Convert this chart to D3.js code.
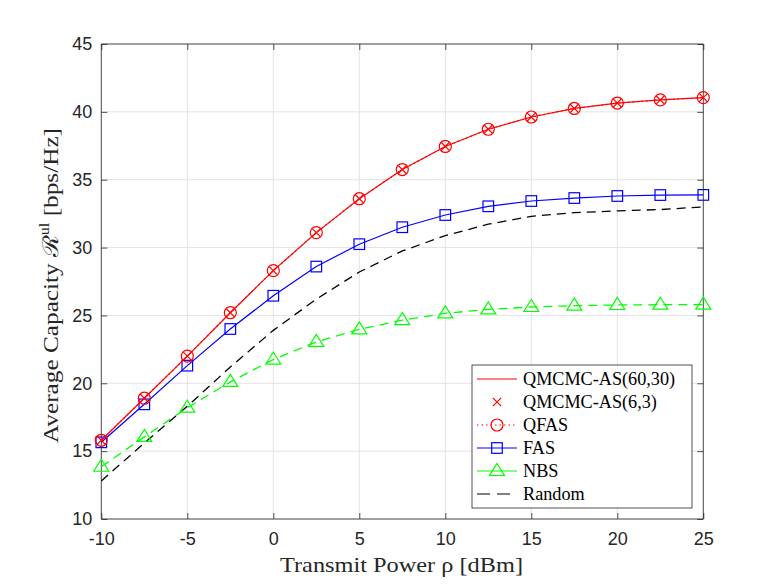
<!DOCTYPE html>
<html>
<head>
<meta charset="utf-8">
<script src="https://cdn.jsdelivr.net/npm/d3@7"></script>
<style>
  html, body { margin: 0; padding: 0; background: #fff; }
  svg { display: block; }
</style>
</head>
<body>
<svg id="chart" width="778" height="584"></svg>
<script>
// transmit power (dBm)
const power = [-10, -7.5, -5, -2.5, 0, 2.5, 5, 7.5, 10, 12.5, 15, 17.5, 20, 22.5, 25];

// average capacity per scheme (bps/Hz)
const qmcmc60 = [15.8, 18.9, 22.0, 25.2, 28.3, 31.1, 33.6, 35.75, 37.45, 38.72, 39.62, 40.25, 40.65, 40.88, 41.05];
const qmcmc6 = [15.8, 18.9, 22.0, 25.2, 28.3, 31.1, 33.6, 35.75, 37.45, 38.72, 39.62, 40.25, 40.65, 40.88, 41.05];
const qfas = [15.8, 18.9, 22.0, 25.2, 28.3, 31.1, 33.6, 35.75, 37.45, 38.72, 39.62, 40.25, 40.65, 40.88, 41.05];
const fas = [15.65, 18.45, 21.3, 24.0, 26.45, 28.6, 30.25, 31.5, 32.4, 33.04, 33.43, 33.65, 33.8, 33.87, 33.88];
const nbs = [13.85, 16.05, 18.2, 20.1, 21.75, 23.05, 23.97, 24.65, 25.15, 25.45, 25.62, 25.72, 25.77, 25.79, 25.8];
const randomSel = [12.8, 15.6, 18.3, 21.2, 23.9, 26.2, 28.2, 29.75, 30.88, 31.72, 32.3, 32.57, 32.7, 32.8, 33.0];

const xTicks = [-10, -5, 0, 5, 10, 15, 20, 25];
const yTicks = [10, 15, 20, 25, 30, 35, 40, 45];

const legendNames = ["QMCMC-AS(60,30)", "QMCMC-AS(6,3)", "QFAS", "FAS", "NBS", "Random"];

const svg = d3.select("#chart");
const plotL = 101.3, plotR = 703.3, plotT = 44, plotB = 519;

const x = d3.scaleLinear().domain([-10, 25]).range([plotL, plotR]);
const y = d3.scaleLinear().domain([10, 45]).range([plotB, plotT]);

const axisColor = "#262626";
const sansFont = "'Liberation Sans', Arial, sans-serif";
const serifFont = "'Liberation Serif', 'DejaVu Serif', serif";

// grid
const grid = svg.append("g");
grid.selectAll("line.gx").data(xTicks).enter().append("line")
  .attr("x1", d => x(d)).attr("x2", d => x(d))
  .attr("y1", plotT).attr("y2", plotB)
  .attr("stroke", "#e3e3e3").attr("stroke-width", 1);
grid.selectAll("line.gy").data(yTicks).enter().append("line")
  .attr("y1", d => y(d)).attr("y2", d => y(d))
  .attr("x1", plotL).attr("x2", plotR)
  .attr("stroke", "#e3e3e3").attr("stroke-width", 1);

// axes (ticks inward, box)
const tickLen = 6;
const fmt = d => String(d); // plain hyphen minus like MATLAB
const xAxisB = d3.axisBottom(x).tickValues(xTicks).tickSize(-tickLen).tickPadding(13).tickFormat(fmt);
const xAxisT = d3.axisTop(x).tickValues(xTicks).tickSize(-tickLen).tickFormat("");
const yAxisL = d3.axisLeft(y).tickValues(yTicks).tickSize(-tickLen).tickPadding(9).tickFormat(fmt);
const yAxisR = d3.axisRight(y).tickValues(yTicks).tickSize(-tickLen).tickFormat("");

function styleAxis(g) {
  g.select(".domain").attr("stroke", axisColor).attr("stroke-width", 0.8);
  g.selectAll(".tick line").attr("stroke", axisColor).attr("stroke-width", 0.8);
  g.selectAll(".tick text").attr("fill", axisColor)
    .attr("font-family", sansFont).attr("font-size", 18);
}

svg.append("g").attr("transform", `translate(0,${plotB})`).call(xAxisB).call(styleAxis)
  .call(g => g.select(".domain").attr("d", `M${plotL},0H${plotR}`));
svg.append("g").attr("transform", `translate(0,${plotT})`).call(xAxisT).call(styleAxis)
  .call(g => g.select(".domain").attr("d", `M${plotL},0H${plotR}`));
svg.append("g").attr("transform", `translate(${plotL},0)`).call(yAxisL).call(styleAxis)
  .call(g => g.select(".domain").attr("d", `M0,${plotT}V${plotB}`));
svg.append("g").attr("transform", `translate(${plotR},0)`).call(yAxisR).call(styleAxis)
  .call(g => g.select(".domain").attr("d", `M0,${plotT}V${plotB}`));

// series
const line = d3.line().x((d, i) => x(power[i])).y(d => y(d));
const plot = svg.append("g");

function drawLine(vals, color, dash, width) {
  plot.append("path").datum(vals)
    .attr("d", line)
    .attr("fill", "none")
    .attr("stroke", color)
    .attr("stroke-width", width || 1.2)
    .attr("stroke-dasharray", dash || null);
}

// marker shapes, drawn at (cx, cy)
function marker(g, type, cx, cy, color) {
  if (type === "circle") {
    g.append("circle").attr("cx", cx).attr("cy", cy).attr("r", 6)
      .attr("fill", "none").attr("stroke", color).attr("stroke-width", 1.2);
  } else if (type === "cross") {
    const s = 4.2;
    g.append("path")
      .attr("d", `M${cx - s},${cy - s}L${cx + s},${cy + s}M${cx - s},${cy + s}L${cx + s},${cy - s}`)
      .attr("stroke", color).attr("stroke-width", 1.2);
  } else if (type === "square") {
    g.append("rect").attr("x", cx - 5.3).attr("y", cy - 5.3)
      .attr("width", 10.6).attr("height", 10.6)
      .attr("fill", "none").attr("stroke", color).attr("stroke-width", 1.2);
  } else if (type === "triangle") {
    g.append("path")
      .attr("d", `M${cx},${cy - 7.5}L${cx + 7.5},${cy + 4.5}L${cx - 7.5},${cy + 4.5}Z`)
      .attr("fill", "none").attr("stroke", color).attr("stroke-width", 1.2);
  }
}

function drawMarkers(vals, type, color) {
  const g = plot.append("g");
  vals.forEach((v, i) => marker(g, type, x(power[i]), y(v), color));
}

drawLine(randomSel, "#000000", "9,6", 1.3);
drawLine(nbs, "#00ff00", "9,6", 1.3);
drawMarkers(nbs, "triangle", "#00ff00");
drawLine(fas, "#0000ff", null, 1.2);
drawMarkers(fas, "square", "#0000ff");
drawLine(qmcmc60, "#ff0000", null, 1.2);
drawLine(qfas, "#ff0000", "1.5,3", 1.2);
drawMarkers(qfas, "circle", "#ff0000");
drawMarkers(qmcmc6, "cross", "#ff0000");

// axis labels
svg.append("text")
  .attr("x", 401.5).attr("y", 572)
  .attr("text-anchor", "middle")
  .attr("font-family", serifFont).attr("font-size", 22).attr("fill", "#262626")
  .attr("textLength", 243).attr("lengthAdjust", "spacingAndGlyphs")
  .text("Transmit Power ρ [dBm]");

const yl = svg.append("text")
  .attr("transform", "translate(58,285.5) rotate(-90)")
  .attr("text-anchor", "middle")
  .attr("font-family", serifFont).attr("font-size", 22).attr("fill", "#262626")
  .attr("textLength", 315).attr("lengthAdjust", "spacingAndGlyphs");
yl.append("tspan").text("Average Capacity ");
yl.append("tspan").text("ℛ");
yl.append("tspan").attr("font-size", 14).attr("dy", -9).text("ul");
yl.append("tspan").attr("dy", 9).text(" [bps/Hz]");

// legend
const lg = svg.append("g");
lg.append("rect").attr("x", 472).attr("y", 365).attr("width", 220).attr("height", 143)
  .attr("fill", "#fff").attr("stroke", axisColor).attr("stroke-width", 0.8);

const legendItems = [
  { color: "#ff0000", dash: null, marker: null },
  { color: "#ff0000", dash: "none", marker: "cross" },
  { color: "#ff0000", dash: "1.5,3", marker: "circle" },
  { color: "#0000ff", dash: null, marker: "square" },
  { color: "#00ff00", dash: null, marker: "triangle" },
  { color: "#000000", dash: "13,7", marker: null }
];

legendItems.forEach((it, i) => {
  const cy = 379 + i * 23;
  if (it.dash !== "none") {
    lg.append("line").attr("x1", 477).attr("x2", 517).attr("y1", cy).attr("y2", cy)
      .attr("stroke", it.color).attr("stroke-width", 1.2)
      .attr("stroke-dasharray", it.dash);
  }
  if (it.marker) marker(lg, it.marker, 497, cy, it.color);
  lg.append("text").attr("x", 523).attr("y", cy).attr("dy", "0.35em")
    .attr("font-family", serifFont).attr("font-size", 18.2).attr("fill", "#000")
    .text(legendNames[i]);
});
</script>
</body>
</html>
